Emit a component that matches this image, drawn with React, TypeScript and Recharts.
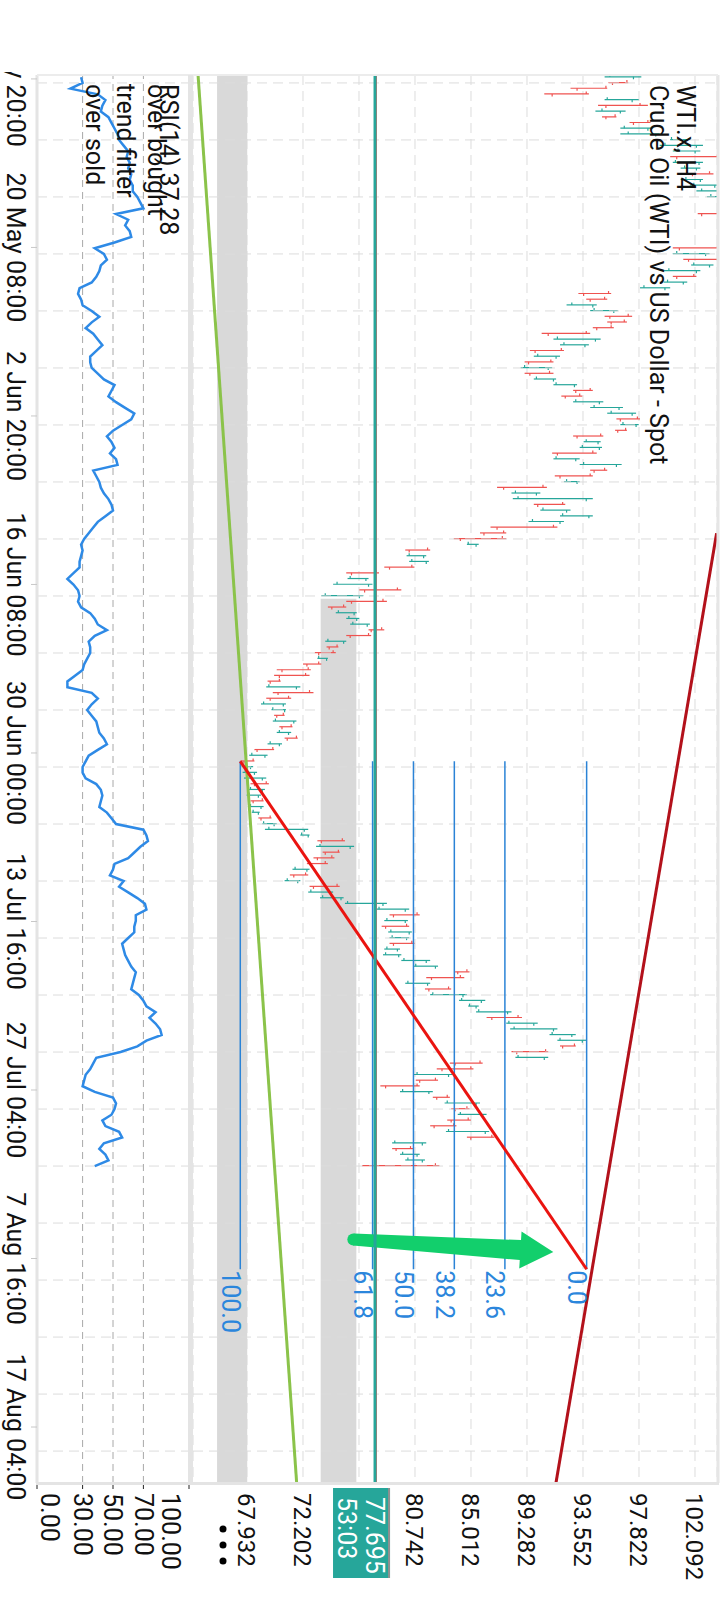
import {
  Bar,
  CartesianGrid,
  ComposedChart,
  Line,
  LineChart,
  ReferenceArea,
  ReferenceLine,
  XAxis,
  YAxis,
} from 'recharts'

// H4 bars: [open, high, low, close]
const bars: [number, number, number, number][] = [
  [95.6, 98.0, 95.2, 97.4], [96.9, 97.0, 95.5, 95.8], [95.3, 95.4, 92.6, 93.1], [93.8, 94.0, 90.6, 91.2],
  [95.4, 97.8, 95.2, 97.3], [97.9, 98.5, 94.7, 95.3], [95.0, 96.8, 94.5, 96.4], [96.0, 96.1, 95.0, 95.3],
  [98.5, 98.7, 97.1, 97.4], [96.7, 98.9, 96.4, 98.5], [97.0, 99.4, 96.4, 99.1], [100.3, 101.5, 100.2, 101.3],
  [99.8, 102.7, 99.4, 102.2], [100.8, 102.5, 100.4, 102.1], [103.8, 104.2, 100.2, 100.7], [100.6, 102.7, 100.4, 102.4],
  [101.3, 102.5, 101.0, 102.2], [103.2, 103.5, 101.5, 101.9], [101.4, 102.7, 101.0, 102.5], [102.0, 103.9, 101.7, 103.6],
  [102.6, 104.3, 102.2, 104.0], [103.3, 104.6, 103.0, 104.4], [104.1, 105.2, 103.9, 105.0], [104.4, 105.8, 104.1, 105.5],
  [103.9, 104.0, 102.3, 102.6], [104.0, 105.0, 103.9, 104.8], [104.5, 105.6, 104.2, 105.3], [105.0, 105.1, 104.0, 104.3],
  [104.5, 105.5, 104.3, 105.2], [104.9, 105.0, 103.9, 104.1], [103.8, 104.0, 100.4, 100.9], [100.7, 103.2, 100.4, 102.9],
  [103.9, 104.1, 101.2, 101.6], [102.0, 103.5, 101.8, 103.2], [100.1, 102.5, 99.7, 102.2], [102.0, 102.2, 100.4, 100.7],
  [100.0, 101.5, 99.7, 101.2], [98.2, 100.2, 97.9, 99.8], [95.5, 95.7, 93.2, 93.6], [95.2, 95.4, 93.8, 94.1],
  [92.7, 94.6, 92.3, 94.3], [94.4, 96.2, 94.1, 95.9], [97.0, 97.3, 95.2, 95.6], [96.7, 96.9, 95.4, 95.7],
  [95.7, 95.9, 94.3, 94.6], [93.8, 94.1, 90.4, 90.9], [91.6, 94.9, 91.3, 94.5], [92.1, 94.0, 91.8, 93.7],
  [91.9, 92.1, 89.5, 89.9], [90.1, 91.8, 89.8, 91.5], [91.1, 91.3, 89.1, 89.4], [89.1, 91.2, 88.8, 90.9],
  [91.0, 91.3, 89.1, 89.5], [90.0, 91.5, 89.8, 91.3], [91.5, 93.1, 91.3, 92.9], [94.1, 94.3, 92.8, 93.0],
  [93.3, 93.5, 91.9, 92.2], [93.0, 95.1, 92.8, 94.8], [94.4, 96.6, 94.1, 96.3], [95.7, 97.6, 95.4, 97.3],
  [97.7, 97.9, 96.1, 96.4], [96.6, 97.8, 96.4, 97.6], [96.8, 96.9, 96.0, 96.2], [94.9, 95.1, 92.8, 93.1],
  [93.8, 94.9, 93.6, 94.7], [93.5, 95.0, 93.3, 94.8], [94.3, 94.6, 91.2, 91.6], [91.5, 93.3, 91.3, 93.0],
  [93.6, 96.5, 93.3, 96.1], [95.2, 95.4, 94.1, 94.4], [94.1, 94.3, 91.4, 91.8], [92.3, 93.3, 92.1, 93.1],
  [90.5, 90.8, 87.0, 87.5], [88.4, 90.3, 88.1, 90.0], [88.6, 94.3, 88.2, 93.8], [92.0, 92.2, 89.8, 90.1],
  [90.5, 92.6, 90.3, 92.3], [92.0, 94.3, 91.8, 94.0], [89.7, 92.1, 89.4, 91.8], [91.3, 91.6, 86.5, 87.0],
  [87.5, 87.7, 85.7, 86.0], [87.4, 87.7, 83.7, 84.2], [84.8, 85.6, 84.7, 85.4], [81.7, 81.9, 80.0, 80.3],
  [80.3, 81.6, 80.1, 81.4], [80.5, 81.8, 80.3, 81.6], [80.5, 80.7, 78.4, 78.8], [77.8, 78.0, 75.5, 75.9],
  [75.8, 77.2, 75.6, 77.0], [74.8, 77.5, 74.5, 77.2], [79.4, 79.7, 76.5, 76.9], [73.9, 76.8, 73.6, 76.5],
  [78.3, 78.6, 75.5, 75.9], [75.3, 75.5, 74.1, 74.4], [74.9, 76.3, 74.7, 76.1], [75.7, 76.5, 75.5, 76.3],
  [76.0, 77.3, 75.8, 77.1], [78.2, 78.4, 77.2, 77.4], [77.2, 77.4, 75.5, 75.8], [74.1, 75.5, 73.9, 75.3],
  [74.8, 74.9, 74.0, 74.2], [74.5, 74.7, 73.1, 73.4], [73.4, 74.1, 73.3, 74.0], [73.4, 73.6, 72.2, 72.5],
  [72.6, 72.8, 70.2, 70.6], [72.4, 72.7, 70.0, 70.4], [70.4, 70.5, 69.5, 69.7], [69.6, 72.0, 69.4, 71.7],
  [72.7, 73.0, 69.9, 70.3], [71.1, 71.3, 69.4, 69.7], [69.2, 70.9, 69.0, 70.7], [69.9, 70.9, 69.8, 70.8],
  [70.7, 70.8, 70.0, 70.2], [70.1, 71.7, 69.9, 71.5], [71.3, 71.4, 70.4, 70.6], [70.4, 71.3, 70.2, 71.1],
  [71.7, 71.8, 70.8, 71.0], [69.7, 70.6, 69.5, 70.4], [69.9, 70.0, 68.5, 68.7], [68.3, 69.5, 68.1, 69.3],
  [68.4, 68.5, 67.42, 67.7], [67.6, 68.4, 67.5, 68.2], [67.8, 68.7, 67.6, 68.5], [67.9, 69.4, 67.7, 69.1],
  [69.4, 69.6, 68.2, 68.5], [68.2, 69.3, 68.0, 69.1], [68.1, 69.0, 67.9, 68.8], [69.1, 69.2, 68.2, 68.4],
  [68.2, 69.2, 68.0, 69.0], [68.4, 68.9, 68.3, 68.8], [69.7, 69.8, 68.8, 69.0], [69.2, 70.2, 69.1, 70.0],
  [69.6, 72.6, 69.3, 72.3], [72.1, 72.7, 72.0, 72.6], [75.2, 75.4, 73.3, 73.6], [73.5, 76.1, 73.2, 75.8],
  [74.9, 75.0, 73.7, 73.9], [74.4, 74.6, 73.0, 73.3], [73.9, 74.1, 72.5, 72.8], [71.6, 72.7, 71.4, 72.5],
  [72.4, 72.6, 71.2, 71.5], [71.0, 72.0, 70.8, 71.8], [74.8, 75.0, 72.7, 73.0], [72.8, 74.5, 72.6, 74.3],
  [73.7, 75.3, 73.5, 75.1], [75.6, 78.6, 75.4, 78.3], [78.0, 80.3, 77.8, 80.0], [80.9, 81.1, 78.8, 79.1],
  [78.6, 80.2, 78.4, 80.0], [80.1, 80.3, 78.2, 78.5], [78.9, 80.5, 78.7, 80.3], [79.0, 80.3, 78.8, 80.1],
  [80.5, 80.7, 78.8, 79.1], [78.6, 79.6, 78.4, 79.4], [78.5, 79.7, 78.3, 79.5], [79.9, 81.9, 79.7, 81.6],
  [80.8, 82.5, 80.6, 82.3], [84.7, 84.9, 83.8, 84.0], [84.2, 84.5, 81.6, 82.0], [80.2, 81.9, 80.0, 81.7],
  [83.3, 83.5, 81.5, 81.8], [82.1, 84.7, 81.9, 84.4], [84.3, 86.1, 84.1, 85.8], [84.9, 85.6, 84.8, 85.4],
  [85.6, 88.1, 85.4, 87.8], [88.6, 88.9, 86.2, 86.6], [87.9, 90.1, 87.7, 89.8], [88.3, 91.6, 88.0, 91.3],
  [91.2, 93.0, 91.0, 92.7], [91.8, 93.83, 91.6, 93.5], [92.9, 93.0, 91.8, 92.0], [90.7, 90.9, 88.1, 88.5],
  [88.6, 90.9, 88.4, 90.6], [85.7, 85.9, 83.4, 83.8], [85.0, 85.2, 82.4, 82.8], [80.9, 83.6, 80.6, 83.3],
  [82.3, 82.5, 80.8, 81.1], [80.9, 81.1, 78.1, 78.5], [79.8, 82.1, 79.6, 81.8], [83.2, 83.4, 82.1, 82.4],
  [83.2, 85.7, 83.0, 85.4], [84.7, 84.9, 83.5, 83.8], [84.2, 86.2, 84.0, 85.9], [84.8, 85.0, 83.2, 83.5],
  [83.7, 83.9, 81.9, 82.2], [83.3, 86.4, 83.1, 86.1], [86.6, 86.8, 84.7, 85.0], [79.2, 81.6, 79.0, 81.3],
  [80.4, 80.6, 79.0, 79.3], [79.8, 81.1, 79.6, 80.9], [80.2, 81.5, 80.0, 81.3], [82.3, 82.6, 76.7, 77.695],
]

const rsiValues = [
  29, 30, 22, 40, 45, 43, 42, 47, 49, 51, 53, 54, 57, 60, 59, 61, 60, 62, 61, 63,
  63, 66, 68, 70, 52, 60, 58, 61, 62, 51, 38, 44, 46, 42, 41, 39, 36, 28, 27, 29,
  30, 36, 41, 36, 32, 37, 40, 43, 39, 35, 35, 36, 40, 44, 51, 49, 47, 52, 58, 64,
  62, 56, 50, 46, 49, 51, 48, 52, 53, 37, 39, 41, 42, 44, 47, 49, 50, 45, 40, 37,
  34, 31, 29, 30, 29, 28, 28, 24, 20, 24, 27, 28, 27, 29, 35, 38, 40, 46, 38, 34,
  35, 35, 33, 31, 30, 25, 20, 20, 36, 40, 36, 33, 36, 39, 40, 41, 44, 46, 40, 34,
  32, 30, 30, 32, 39, 42, 43, 42, 41, 46, 49, 52, 70, 72, 73, 68, 64, 60, 51, 50,
  48, 57, 54, 60, 66, 71, 72, 65, 65, 64, 64, 60, 56, 57, 58, 60, 62, 65, 64, 63,
  62, 67, 70, 72, 78, 74, 78, 81, 82, 72, 66, 55, 39, 37, 35, 32, 31, 30, 38, 50,
  52, 51, 49, 43, 45, 54, 56, 44, 41, 45, 47, 38,
]

const priceTicks = [67.932, 72.202, 76.472, 80.742, 85.012, 89.282, 93.552, 97.822, 102.092]
const rsiTicks = [0, 30, 50, 70, 100]
const rsiLevels = [30, 50, 70]
const timeTicks = [0.3, 29.86, 59.42, 88.98, 118.54, 148.1, 177.66, 207.22, 236.78]
const timeLabels = [
  '6 May 20:00', '20 May 08:00', '2 Jun 20:00', '16 Jun 08:00', '30 Jun 00:00',
  '13 Jul 16:00', '27 Jul 04:00', '7 Aug 16:00', '17 Aug 04:00',
]
const fibLow = 67.42
const fibHigh = 93.83
const fibRatios = [0, 23.6, 38.2, 50, 61.8, 100]
const fibStart = 120.0
const fibEnd = 209.1
const lastPrice = 77.695
const askPrice = 77.8
const countdown = '53:03'
const trendGreen = [{ x: -0.39, y: 64.2 }, { x: 246.6, y: 71.72 }]
const trendDarkRed = [{ x: 80.0, y: 103.74 }, { x: 246.6, y: 91.49 }]
const arrowPts = [{ x: 203.9, y: 76.04 }, { x: 206.1, y: 91.29 }]
const zoneLow = [65.65, 67.95]
const zoneMid = [73.55, 76.27]
const zoneMidStart = 91.5

const X_DOMAIN: [number, number] = [-0.39, 246.6]
const PRICE_DOMAIN: [number, number] = [63.815, 103.77]
const gridSteps = Array.from({ length: 25 }, (_, k) => 1 + k * 10)

const UP = '#26a69a'
const DOWN = '#ef5350'
const GRID = '#dcdcdc'
const FONT = 25

const rows = bars.map(([o, h, l, c], i) => ({ i, o, h, l, c, range: [l, h], rsi: rsiValues[i] }))

function OhlcBar(props: any) {
  const { x, y, width, height, payload } = props
  if (height == null || !payload) return null
  const cx = x + width / 2
  const span = payload.h - payload.l
  const toY = (v: number) => y + ((payload.h - v) / span) * height
  const color = payload.c >= payload.o ? UP : DOWN
  return (
    <g stroke={color} strokeWidth={1.2}>
      <line x1={cx} x2={cx} y1={y} y2={y + height} />
      <line x1={cx - 2.5} x2={cx} y1={toY(payload.o)} y2={toY(payload.o)} />
      <line x1={cx} x2={cx + 2.5} y1={toY(payload.c)} y2={toY(payload.c)} />
    </g>
  )
}

function ArrowShape(props: any) {
  const { x1, y1, x2, y2 } = props
  const dx = x2 - x1
  const dy = y2 - y1
  const len = Math.hypot(dx, dy)
  const ux = dx / len
  const uy = dy / len
  const nx = -uy
  const ny = ux
  const tailW = 6
  const neckW = 10
  const headW = 18.5
  const headLen = 33
  const bx = x2 - ux * headLen
  const by = y2 - uy * headLen
  const pts = [
    [x1 + nx * tailW, y1 + ny * tailW],
    [bx + nx * neckW, by + ny * neckW],
    [bx + nx * headW, by + ny * headW],
    [x2, y2],
    [bx - nx * headW, by - ny * headW],
    [bx - nx * neckW, by - ny * neckW],
    [x1 - nx * tailW, y1 - ny * tailW],
  ]
  return (
    <g fill="#12cf6c">
      <polygon points={pts.map((p) => p.join(',')).join(' ')} />
      <circle cx={x1} cy={y1} r={tailW} />
    </g>
  )
}

function fibShape(label: string) {
  return (props: any) => {
    const { x1, y1, x2, y2 } = props
    return (
      <g>
        <line x1={x1} y1={y1} x2={x2} y2={y2} stroke="#2b83d6" strokeWidth={1.5} />
        <text x={x2 + 1} y={y2 + 18.5} fontSize={FONT} fill="#2b86dc">
          {label}
        </text>
      </g>
    )
  }
}

function PriceLineShape(props: any) {
  const { x1, y1, x2, y2 } = props
  const right = Math.max(x1, x2)
  return (
    <g>
      <line x1={x1} y1={y1} x2={x2} y2={y2} stroke="#26a69a" strokeWidth={3} />
      <rect x={right + 5} y={y1 - 15} width={90} height={57} fill="#26a69a" />
      <rect x={right + 5} y={y1 - 15} width={90} height={2} fill="#8f8f8f" />
      <text x={right + 14} y={y1 + 9} fontSize={FONT} fill="#fff">
        {lastPrice.toFixed(3)}
      </text>
      <text x={right + 14} y={y1 + 37.5} fontSize={FONT} fill="#fff">
        {countdown}
      </text>
    </g>
  )
}

// price labels that sit under the last-price box are covered by it
function PriceTick(props: any) {
  const { x, y, payload } = props
  const v = Number(payload.value)
  if (v > lastPrice - 3.2 && v < lastPrice + 1.1) return null
  return (
    <text x={x} y={y} dy="0.355em" fontSize={24} fill="#111" textAnchor="start">
      {v.toFixed(3)}
    </text>
  )
}

function RsiTick(props: any) {
  const { x, y, payload } = props
  const shift = payload.value === 0 ? -13 : payload.value === 100 ? 15 : 0
  return (
    <text x={x} y={y + shift} dy="0.355em" fontSize={FONT} fill="#111" textAnchor="start">
      {Number(payload.value).toFixed(2)}
    </text>
  )
}

export default function App() {
  return (
    <div
      style={{
        position: 'absolute',
        left: 0,
        top: 0,
        width: 720,
        height: 1600,
        overflow: 'hidden',
        background: '#fff',
        fontFamily: 'Roboto, sans-serif',
      }}
    >
      <div
        style={{
          position: 'absolute',
          left: 0,
          top: 0,
          width: 1600,
          height: 720,
          transform: 'translateX(720px) rotate(90deg)',
          transformOrigin: '0 0',
        }}
      >
        <div style={{ position: 'absolute', left: 0, top: 0 }}>
          <ComposedChart width={1600} height={530} data={rows} margin={{ top: 3, right: 0, bottom: 3, left: 75 }}>
            <CartesianGrid vertical={false} stroke={GRID} strokeDasharray="10 6" />
            <XAxis type="number" dataKey="i" domain={X_DOMAIN} allowDataOverflow hide />
            <YAxis
              orientation="right"
              width={117}
              domain={PRICE_DOMAIN}
              ticks={priceTicks}
              allowDataOverflow
              tickLine={false}
              axisLine={false}
              tickSize={6}
              tickMargin={4}
              tick={<PriceTick />}
            />
            {gridSteps.map((g) => (
              <ReferenceLine key={`g${g}`} x={g} stroke={GRID} strokeDasharray="10 6" />
            ))}
            <ReferenceArea y1={zoneLow[0]} y2={zoneLow[1]} fill="#d9d9d9" fillOpacity={1} stroke="none" />
            <ReferenceArea
              x1={zoneMidStart}
              x2={X_DOMAIN[1]}
              y1={zoneMid[0]}
              y2={zoneMid[1]}
              fill="#d9d9d9"
              fillOpacity={1}
              stroke="none"
            />
            <ReferenceLine segment={trendGreen} stroke="#8bc34a" strokeWidth={3} ifOverflow="hidden" />
            <ReferenceLine segment={trendDarkRed} stroke="#b3111b" strokeWidth={3} ifOverflow="hidden" />
            <Bar dataKey="range" barSize={5} shape={OhlcBar} isAnimationActive={false} />
            <ReferenceLine y={askPrice} stroke="#ef5350" strokeWidth={1} />
            {fibRatios.map((r) => {
              const level = fibHigh - (r / 100) * (fibHigh - fibLow)
              return (
                <ReferenceLine
                  key={`f${r}`}
                  segment={[{ x: fibStart, y: level }, { x: fibEnd, y: level }]}
                  shape={fibShape(r.toFixed(1))}
                />
              )
            })}
            <ReferenceLine
              segment={[{ x: fibStart, y: fibLow }, { x: fibEnd, y: fibHigh }]}
              stroke="#ea1410"
              strokeWidth={3}
            />
            <ReferenceLine segment={arrowPts} shape={ArrowShape} />
            <ReferenceLine y={lastPrice} shape={PriceLineShape} />
          </ComposedChart>
        </div>

        <div style={{ position: 'absolute', left: 0, top: 525 }}>
          <LineChart width={1600} height={195} data={rows} margin={{ top: 6, right: 0, bottom: 0, left: 75 }}>
            <XAxis
              type="number"
              dataKey="i"
              domain={X_DOMAIN}
              allowDataOverflow
              ticks={timeTicks}
              interval={0}
              height={37}
              tickSize={6}
              tickMargin={6}
              tick={{ fontSize: FONT, fill: '#111' }}
              tickLine={{ stroke: '#c8c8c8' }}
              axisLine={{ stroke: '#e4e4e4', strokeWidth: 3 }}
              tickFormatter={(v: number) => timeLabels[timeTicks.indexOf(v)]}
            />
            <YAxis
              orientation="right"
              width={117}
              domain={[0, 100]}
              ticks={rsiTicks}
              tickSize={6}
              tickMargin={4}
              tickLine={{ stroke: '#222' }}
              axisLine={false}
              tick={<RsiTick />}
            />
            {gridSteps.map((g) => (
              <ReferenceLine key={`r${g}`} x={g} stroke={GRID} strokeDasharray="10 6" />
            ))}
            {rsiLevels.map((v) => (
              <ReferenceLine key={`l${v}`} y={v} stroke="#a8a8a8" strokeDasharray="7 5" />
            ))}
            <Line
              type="linear"
              dataKey="rsi"
              stroke="#2e8ae6"
              strokeWidth={2.5}
              dot={false}
              isAnimationActive={false}
            />
          </LineChart>
        </div>

        <svg
          width={1600}
          height={720}
          style={{ position: 'absolute', left: 0, top: 0, pointerEvents: 'none' }}
        >
          <line x1={75} x2={1483} y1={2} y2={2} stroke="#e6e6e6" strokeWidth={3} />
          <line x1={75} x2={75} y1={2} y2={683} stroke="#ececec" strokeWidth={2} />
          <line x1={1483.5} x2={1483.5} y1={1} y2={684} stroke="#e4e4e4" strokeWidth={3} />
          <line x1={75} x2={1483} y1={529.5} y2={529.5} stroke="#e4e4e4" strokeWidth={5} />
          <text x={85} y={43} fontSize={FONT} fill="#111">WTI.x, H4</text>
          <text x={85} y={70} fontSize={FONT} fill="#111">Crude Oil (WTI) vs US Dollar - Spot</text>
          <text x={84} y={560} fontSize={FONT} fill="#111">RSI(14) 37.28</text>
          <text x={84} y={572} fontSize={FONT} fill="#111">over bought</text>
          <text x={84} y={603} fontSize={FONT} fill="#111">trend filter</text>
          <text x={84} y={634} fontSize={FONT} fill="#111">over sold</text>
          <circle cx={1529} cy={497} r={3.5} fill="#000" />
          <circle cx={1545} cy={497} r={3.5} fill="#000" />
          <circle cx={1561} cy={497} r={3.5} fill="#000" />
        </svg>

        <div style={{ position: 'absolute', left: 0, top: 0, width: 72, height: 720, background: '#fff' }} />
      </div>
    </div>
  )
}
